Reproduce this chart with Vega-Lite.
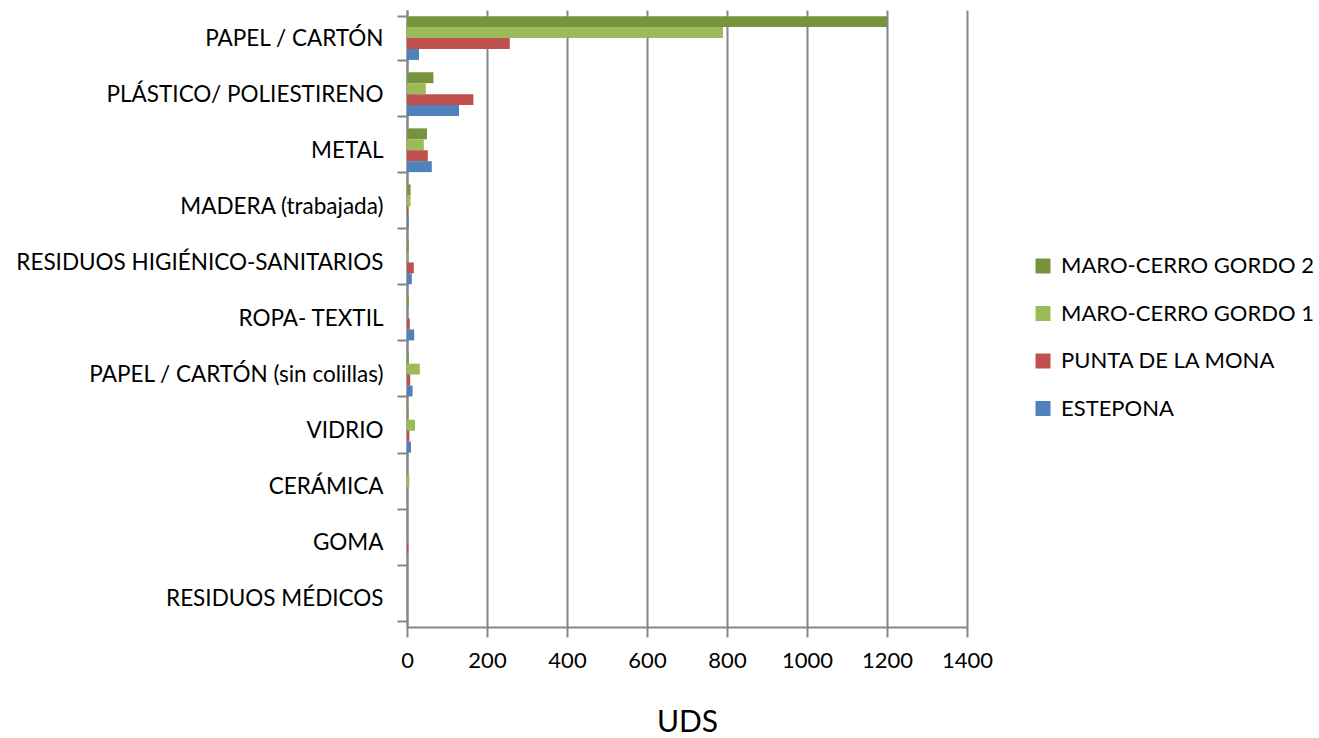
{
  "$schema": "https://vega.github.io/schema/vega-lite/v6.json",
  "autosize": "none",
  "padding": {"left": 407, "top": 10, "right": 352, "bottom": 111},
  "width": 560,
  "height": 617,
  "background": "white",
  "config": {
    "font": "Lato",
    "view": {"stroke": null}
  },
  "data": {
    "values": [
      {"cat": "PAPEL / CARTÓN", "serie": "MARO-CERRO GORDO 2", "uds": 1200},
      {"cat": "PAPEL / CARTÓN", "serie": "MARO-CERRO GORDO 1", "uds": 790},
      {"cat": "PAPEL / CARTÓN", "serie": "PUNTA DE LA MONA", "uds": 257},
      {"cat": "PAPEL / CARTÓN", "serie": "ESTEPONA", "uds": 30},
      {"cat": "PLÁSTICO/ POLIESTIRENO", "serie": "MARO-CERRO GORDO 2", "uds": 66},
      {"cat": "PLÁSTICO/ POLIESTIRENO", "serie": "MARO-CERRO GORDO 1", "uds": 47},
      {"cat": "PLÁSTICO/ POLIESTIRENO", "serie": "PUNTA DE LA MONA", "uds": 166},
      {"cat": "PLÁSTICO/ POLIESTIRENO", "serie": "ESTEPONA", "uds": 130},
      {"cat": "METAL", "serie": "MARO-CERRO GORDO 2", "uds": 50},
      {"cat": "METAL", "serie": "MARO-CERRO GORDO 1", "uds": 42},
      {"cat": "METAL", "serie": "PUNTA DE LA MONA", "uds": 52},
      {"cat": "METAL", "serie": "ESTEPONA", "uds": 62},
      {"cat": "MADERA (trabajada)", "serie": "MARO-CERRO GORDO 2", "uds": 9},
      {"cat": "MADERA (trabajada)", "serie": "MARO-CERRO GORDO 1", "uds": 9},
      {"cat": "MADERA (trabajada)", "serie": "PUNTA DE LA MONA", "uds": 3},
      {"cat": "MADERA (trabajada)", "serie": "ESTEPONA", "uds": 4},
      {"cat": "RESIDUOS HIGIÉNICO-SANITARIOS", "serie": "MARO-CERRO GORDO 2", "uds": 4},
      {"cat": "RESIDUOS HIGIÉNICO-SANITARIOS", "serie": "MARO-CERRO GORDO 1", "uds": 1},
      {"cat": "RESIDUOS HIGIÉNICO-SANITARIOS", "serie": "PUNTA DE LA MONA", "uds": 17},
      {"cat": "RESIDUOS HIGIÉNICO-SANITARIOS", "serie": "ESTEPONA", "uds": 12},
      {"cat": "ROPA- TEXTIL", "serie": "MARO-CERRO GORDO 2", "uds": 4},
      {"cat": "ROPA- TEXTIL", "serie": "MARO-CERRO GORDO 1", "uds": 0},
      {"cat": "ROPA- TEXTIL", "serie": "PUNTA DE LA MONA", "uds": 7},
      {"cat": "ROPA- TEXTIL", "serie": "ESTEPONA", "uds": 18},
      {"cat": "PAPEL / CARTÓN (sin colillas)", "serie": "MARO-CERRO GORDO 2", "uds": 4},
      {"cat": "PAPEL / CARTÓN (sin colillas)", "serie": "MARO-CERRO GORDO 1", "uds": 32},
      {"cat": "PAPEL / CARTÓN (sin colillas)", "serie": "PUNTA DE LA MONA", "uds": 8},
      {"cat": "PAPEL / CARTÓN (sin colillas)", "serie": "ESTEPONA", "uds": 14},
      {"cat": "VIDRIO", "serie": "MARO-CERRO GORDO 2", "uds": 3},
      {"cat": "VIDRIO", "serie": "MARO-CERRO GORDO 1", "uds": 20},
      {"cat": "VIDRIO", "serie": "PUNTA DE LA MONA", "uds": 6},
      {"cat": "VIDRIO", "serie": "ESTEPONA", "uds": 10},
      {"cat": "CERÁMICA", "serie": "MARO-CERRO GORDO 2", "uds": 0},
      {"cat": "CERÁMICA", "serie": "MARO-CERRO GORDO 1", "uds": 6},
      {"cat": "CERÁMICA", "serie": "PUNTA DE LA MONA", "uds": 0},
      {"cat": "CERÁMICA", "serie": "ESTEPONA", "uds": 0},
      {"cat": "GOMA", "serie": "MARO-CERRO GORDO 2", "uds": 0},
      {"cat": "GOMA", "serie": "MARO-CERRO GORDO 1", "uds": 0},
      {"cat": "GOMA", "serie": "PUNTA DE LA MONA", "uds": 3},
      {"cat": "GOMA", "serie": "ESTEPONA", "uds": 0},
      {"cat": "RESIDUOS MÉDICOS", "serie": "MARO-CERRO GORDO 2", "uds": 0},
      {"cat": "RESIDUOS MÉDICOS", "serie": "MARO-CERRO GORDO 1", "uds": 0},
      {"cat": "RESIDUOS MÉDICOS", "serie": "PUNTA DE LA MONA", "uds": 0},
      {"cat": "RESIDUOS MÉDICOS", "serie": "ESTEPONA", "uds": 0}
    ]
  },
  "mark": {"type": "bar"},
  "encoding": {
    "y": {
      "field": "cat",
      "type": "nominal",
      "sort": null,
      "scale": {"paddingInner": 0.22, "paddingOuter": 0.11},
      "axis": {
        "title": null,
        "tickBand": "extent",
        "domainColor": "#868686",
        "domainWidth": 2,
        "tickColor": "#868686",
        "tickWidth": 2,
        "tickSize": 10,
        "labelPadding": 14,
        "labelFontSize": 22.5,
        "labelColor": "#000000",
        "labelFont": "Lato",
        "labelLimit": 500
      }
    },
    "yOffset": {
      "field": "serie",
      "type": "nominal",
      "sort": ["MARO-CERRO GORDO 2", "MARO-CERRO GORDO 1", "PUNTA DE LA MONA", "ESTEPONA"]
    },
    "x": {
      "field": "uds",
      "type": "quantitative",
      "scale": {"domain": [0, 1400], "nice": false},
      "axis": {
        "title": "UDS",
        "titleFontSize": 30,
        "titleFontWeight": "normal",
        "titleColor": "#000000",
        "titlePadding": 36,
        "values": [0, 200, 400, 600, 800, 1000, 1200, 1400],
        "format": "d",
        "grid": true,
        "gridColor": "#868686",
        "gridWidth": 2,
        "domainColor": "#868686",
        "domainWidth": 2,
        "tickColor": "#868686",
        "tickWidth": 2,
        "tickSize": 10,
        "labelFontSize": 22,
        "labelColor": "#000000",
        "labelPadding": 13,
        "labelFlush": false
      }
    },
    "color": {
      "field": "serie",
      "type": "nominal",
      "sort": ["MARO-CERRO GORDO 2", "MARO-CERRO GORDO 1", "PUNTA DE LA MONA", "ESTEPONA"],
      "scale": {
        "domain": ["MARO-CERRO GORDO 2", "MARO-CERRO GORDO 1", "PUNTA DE LA MONA", "ESTEPONA"],
        "range": ["#77933C", "#9BBB59", "#C0504D", "#4F81BD"]
      },
      "legend": {
        "title": null,
        "orient": "none",
        "legendX": 625,
        "legendY": 245,
        "padding": 0,
        "symbolType": "square",
        "symbolSize": 225,
        "symbolStrokeWidth": 0,
        "labelFontSize": 22,
        "labelColor": "#000000",
        "labelLimit": 400,
        "rowPadding": 25.5,
        "labelOffset": 7
      }
    }
  }
}
